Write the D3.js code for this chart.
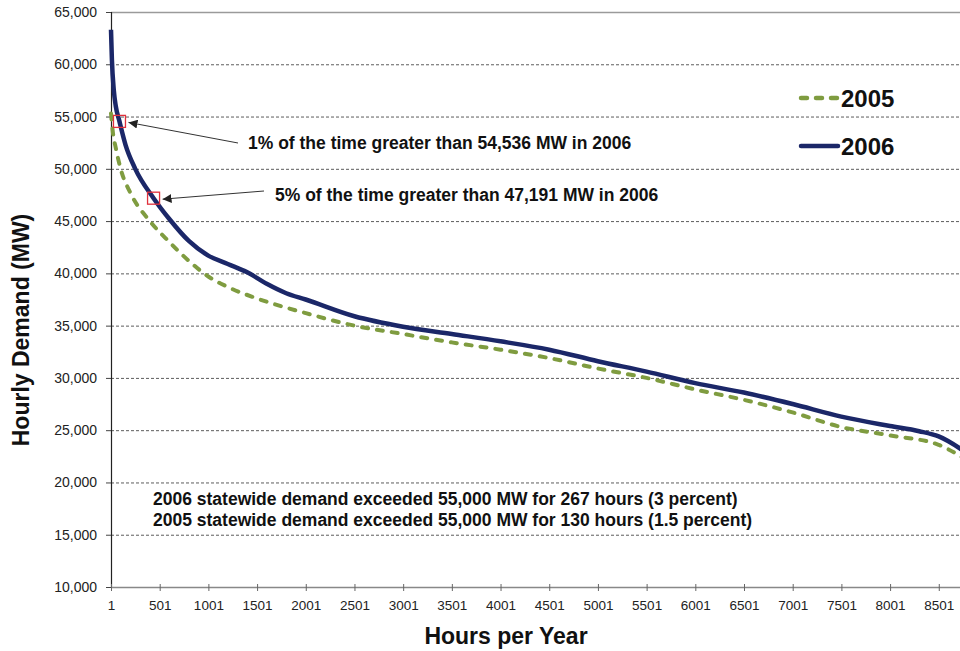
<!DOCTYPE html>
<html>
<head>
<meta charset="utf-8">
<script src="https://cdn.jsdelivr.net/npm/d3@7"></script>
<style>
  body { margin: 0; background: #fff; overflow: hidden; }
  svg { display: block; font-family: "Liberation Sans", Arial, sans-serif; }
</style>
</head>
<body>
<div id="chart"></div>
<script>
// load duration data
const hours2006 = [1, 10, 30, 50, 88, 150, 250, 438, 600, 800, 1000, 1200, 1400, 1600, 1800, 2000, 2500, 3000, 3500, 4000, 4500, 5000, 5500, 6000, 6500, 7000, 7500, 8000, 8300, 8500, 8760];
const demand2006 = [63300, 60500, 57500, 56000, 54536, 52300, 50000, 47191, 45200, 43100, 41700, 40900, 40100, 39000, 38100, 37500, 35900, 34900, 34200, 33500, 32700, 31600, 30600, 29500, 28600, 27500, 26300, 25400, 24900, 24400, 23000];

const hours2005 = [1, 20, 50, 100, 200, 400, 600, 800, 1000, 1200, 1500, 2000, 2500, 3000, 3500, 4000, 4500, 5000, 5500, 6000, 6500, 7000, 7500, 8000, 8500, 8760];
const demand2005 = [55300, 53500, 52000, 50000, 47700, 45000, 43000, 41200, 39700, 38700, 37600, 36200, 35000, 34200, 33400, 32700, 31900, 30900, 30000, 28900, 27900, 26700, 25300, 24500, 23600, 22300];

const xTicks = [1, 501, 1001, 1501, 2001, 2501, 3001, 3501, 4001, 4501, 5001, 5501, 6001, 6501, 7001, 7501, 8001, 8501];
const yTicks = [10000, 15000, 20000, 25000, 30000, 35000, 40000, 45000, 50000, 55000, 60000, 65000];

const notes = [
    { hour: 88, value: 54536, text: '1% of the time greater than 54,536 MW in 2006', tx: 248, ty: 149, ax: 238, ay: 143 },
    { hour: 438, value: 47191, text: '5% of the time greater than 47,191 MW in 2006', tx: 275, ty: 201, ax: 264, ay: 191 }
];
const footLines = [
    '2006 statewide demand exceeded 55,000 MW for 267 hours (3 percent)',
    '2005 statewide demand exceeded 55,000 MW for 130 hours (1.5 percent)'
];

const width = 960, height = 651;
const green = '#7f9c40', navy = '#1b2768';

const svg = d3.select('#chart').append('svg')
    .attr('width', width)
    .attr('height', height);

// plot runs past the right edge (cropped slide)
const x = d3.scaleLinear().domain([1, 8760]).range([111, 964]);
const y = d3.scaleLinear().domain([10000, 65000]).range([587, 12]);

// gridlines
svg.append('g')
    .selectAll('line')
    .data(yTicks.filter((d) => d > 10000))
    .enter()
    .append('line')
    .attr('x1', x(1))
    .attr('x2', width)
    .attr('y1', (d) => y(d) + 0.5)
    .attr('y2', (d) => y(d) + 0.5)
    .attr('stroke', (d) => (d === 65000 ? '#9a9a9a' : '#333'))
    .attr('stroke-width', (d) => (d === 65000 ? 1.5 : 0.8))
    .attr('stroke-dasharray', (d) => (d === 65000 ? null : '3,2'));

// y axis
const yAxis = svg.append('g')
    .attr('transform', `translate(${x(1)},0)`)
    .call(d3.axisLeft(y).tickValues(yTicks).tickFormat(d3.format(',')).tickSize(5).tickPadding(9));
yAxis.select('.domain').attr('stroke', '#222').attr('stroke-width', 1.2);
yAxis.selectAll('.tick line').attr('stroke', '#444');
yAxis.selectAll('text').attr('font-size', 14).attr('fill', '#222')
    .attr('font-family', '"Liberation Sans", Arial, sans-serif');

// x axis
const xAxis = svg.append('g')
    .attr('transform', `translate(0,${y(10000)})`)
    .call(d3.axisBottom(x).tickValues(xTicks).tickFormat(d3.format('d')).tickSizeInner(4).tickSizeOuter(0).tickPadding(9));
xAxis.select('.domain').attr('stroke', '#888').attr('stroke-width', 1.5);
xAxis.selectAll('.tick line').attr('stroke', '#666').attr('y1', -3);
xAxis.selectAll('text').attr('font-size', 13.5).attr('fill', '#222')
    .attr('font-family', '"Liberation Sans", Arial, sans-serif');

// lines
const line = d3.line()
    .x((d) => x(d[0]))
    .y((d) => y(d[1]))
    .curve(d3.curveMonotoneX);

svg.append('path')
    .datum(d3.zip(hours2005, demand2005))
    .attr('d', line)
    .attr('fill', 'none')
    .attr('stroke', green)
    .attr('stroke-width', 4)
    .attr('stroke-linecap', 'round')
    .attr('stroke-dasharray', '6,9');

svg.append('path')
    .datum(d3.zip(hours2006, demand2006))
    .attr('d', line)
    .attr('fill', 'none')
    .attr('stroke', navy)
    .attr('stroke-width', 4.5);

// annotations
svg.append('defs').append('marker')
    .attr('id', 'arrow')
    .attr('viewBox', '0 0 10 10')
    .attr('refX', 10)
    .attr('refY', 5)
    .attr('markerWidth', 9)
    .attr('markerHeight', 9)
    .attr('markerUnits', 'userSpaceOnUse')
    .attr('orient', 'auto')
    .append('path')
    .attr('d', 'M0,0 L10,5 L0,10 z')
    .attr('fill', '#222');

notes.forEach((n) => {
    svg.append('rect')
        .attr('x', x(n.hour) - 6)
        .attr('y', y(n.value) - 6)
        .attr('width', 12)
        .attr('height', 12)
        .attr('fill', 'none')
        .attr('stroke', '#e0303c')
        .attr('stroke-width', 1.3);
    svg.append('line')
        .attr('x1', n.ax)
        .attr('y1', n.ay)
        .attr('x2', x(n.hour) + 9)
        .attr('y2', y(n.value) + 1)
        .attr('stroke', '#333')
        .attr('stroke-width', 1)
        .attr('marker-end', 'url(#arrow)');
    svg.append('text')
        .attr('x', n.tx)
        .attr('y', n.ty)
        .attr('font-size', 17.5)
        .attr('font-weight', 'bold')
        .attr('fill', '#111')
        .text(n.text);
});

svg.append('g')
    .selectAll('text')
    .data(footLines)
    .enter()
    .append('text')
    .attr('x', 153)
    .attr('y', (d, i) => 505 + i * 21)
    .attr('font-size', 17.5)
    .attr('font-weight', 'bold')
    .attr('fill', '#111')
    .text((d) => d);

// legend
const legend = [
    { label: '2005', color: green, dash: '6,9', y: 98 },
    { label: '2006', color: navy, dash: null, y: 146 }
];
const lg = svg.append('g').selectAll('g').data(legend).enter().append('g');
lg.append('line')
    .attr('x1', 801)
    .attr('x2', 838)
    .attr('y1', (d) => d.y)
    .attr('y2', (d) => d.y)
    .attr('stroke', (d) => d.color)
    .attr('stroke-width', 4.5)
    .attr('stroke-linecap', 'round')
    .attr('stroke-dasharray', (d) => d.dash);
lg.append('text')
    .attr('x', 841)
    .attr('y', (d) => d.y + 9)
    .attr('font-size', 24)
    .attr('font-weight', 'bold')
    .attr('fill', '#111')
    .text((d) => d.label);

// axis titles
svg.append('text')
    .attr('x', 506)
    .attr('y', 644)
    .attr('text-anchor', 'middle')
    .attr('font-size', 23)
    .attr('font-weight', 'bold')
    .attr('fill', '#111')
    .text('Hours per Year');

svg.append('text')
    .attr('transform', 'translate(29,330) rotate(-90)')
    .attr('text-anchor', 'middle')
    .attr('font-size', 23)
    .attr('font-weight', 'bold')
    .attr('fill', '#111')
    .text('Hourly Demand (MW)');
</script>
</body>
</html>
